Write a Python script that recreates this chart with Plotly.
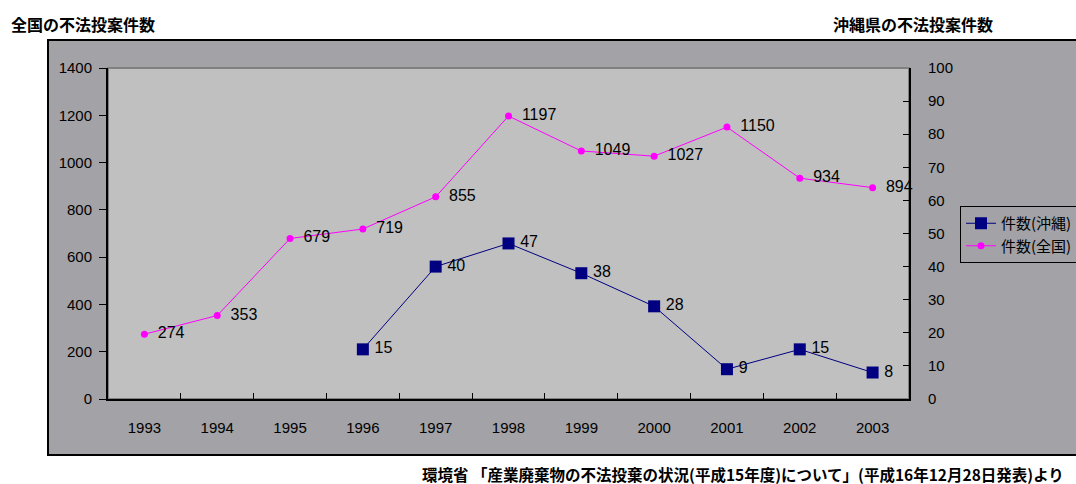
import plotly.graph_objects as go

years = ["1993", "1994", "1995", "1996", "1997", "1998", "1999", "2000", "2001", "2002", "2003"]
zenkoku = [274, 353, 679, 719, 855, 1197, 1049, 1027, 1150, 934, 894]
okinawa = [None, None, None, 15, 40, 47, 38, 28, 9, 15, 8]

W, H = 1076, 484
L, R, T, B = 108, 909, 68, 399
pw, ph = R - L, B - T

def px(x):
    return (x - L) / pw

def py(y):
    return (B - y) / ph

font_main = "Liberation Sans, Arial, sans-serif"
jp = "Noto Sans CJK JP, sans-serif"

fig = go.Figure()
fig.add_trace(go.Scatter(
    x=years, y=okinawa, name="件数(沖縄)", yaxis="y2",
    mode="lines+markers+text",
    line=dict(color="#000080", width=1),
    marker=dict(symbol="square", size=12, color="#000080"),
    text=[("" if v is None else "\u2009" + str(v)) for v in okinawa],
    textposition="middle right",
    textfont=dict(size=16, color="black", family=font_main),
    connectgaps=False, cliponaxis=False,
))
fig.add_trace(go.Scatter(
    x=years, y=zenkoku, name="件数(全国)",
    mode="lines+markers+text",
    line=dict(color="#FF00FF", width=1),
    marker=dict(symbol="circle", size=7, color="#FF00FF"),
    text=["\u2002" + str(v) for v in zenkoku],
    textposition="middle right",
    textfont=dict(size=16, color="black", family=font_main),
    cliponaxis=False,
))

shapes = [
    dict(type="rect", xref="paper", yref="paper", x0=px(48), x1=px(1090), y0=py(455), y1=py(40),
         fillcolor="#A3A2A6", line=dict(color="black", width=2), layer="below"),
    dict(type="rect", xref="paper", yref="paper", x0=0, x1=1, y0=0, y1=1,
         fillcolor="#C0C0C0", line=dict(color="#808080", width=2), layer="below"),
]

annotations = [
    dict(text="<b>全国の不法投案件数</b>", xref="paper", yref="paper", x=px(9), y=py(24),
         xanchor="left", yanchor="middle", showarrow=False, font=dict(size=16, color="black", family=jp)),
    dict(text="<b>沖縄県の不法投案件数</b>", xref="paper", yref="paper", x=px(831), y=py(24),
         xanchor="left", yanchor="middle", showarrow=False, font=dict(size=16, color="black", family=jp)),
    dict(text="<b>環境省 「産業廃棄物の不法投棄の状況(平成15年度)について」(平成16年12月28日発表)より</b>",
         xref="paper", yref="paper", x=px(420), y=py(474),
         xanchor="left", yanchor="middle", showarrow=False, font=dict(size=15.5, color="black", family=jp)),
]

fig.update_layout(
    width=W, height=H,
    margin=dict(l=L, r=W - R, t=T, b=H - B, pad=0, autoexpand=False),
    paper_bgcolor="white",
    plot_bgcolor="rgba(0,0,0,0)",
    showlegend=True,
    legend=dict(x=px(960), y=py(206), xanchor="left", yanchor="top",
                bgcolor="#A3A2A6", bordercolor="black", borderwidth=1,
                font=dict(size=15, color="black", family=jp),
                itemwidth=30, tracegroupgap=0),
    xaxis=dict(type="category", range=[-0.5, 10.5], showgrid=False, showline=True, linecolor="black", linewidth=2,
               ticks="inside", tickson="boundaries", ticklen=6, tickcolor="black",
               tickfont=dict(size=15, color="black", family=font_main),
               ticklabelstandoff=14, zeroline=False, fixedrange=True),
    yaxis=dict(range=[0, 1400], dtick=200, showgrid=False, showline=True, linecolor="black", linewidth=2,
               ticks="outside", ticklen=7, tickcolor="black",
               tickfont=dict(size=15, color="black", family=font_main),
               zeroline=False, ticklabelstandoff=4),
    yaxis2=dict(range=[0, 100], dtick=10, overlaying="y", side="right", showgrid=False,
                showline=True, linecolor="black", linewidth=2,
                ticks="inside", ticklen=6, tickcolor="black",
                tickfont=dict(size=15, color="black", family=font_main),
                zeroline=False, ticklabelstandoff=14),
    shapes=shapes,
    annotations=annotations,
)

fig.write_html("out.html")
